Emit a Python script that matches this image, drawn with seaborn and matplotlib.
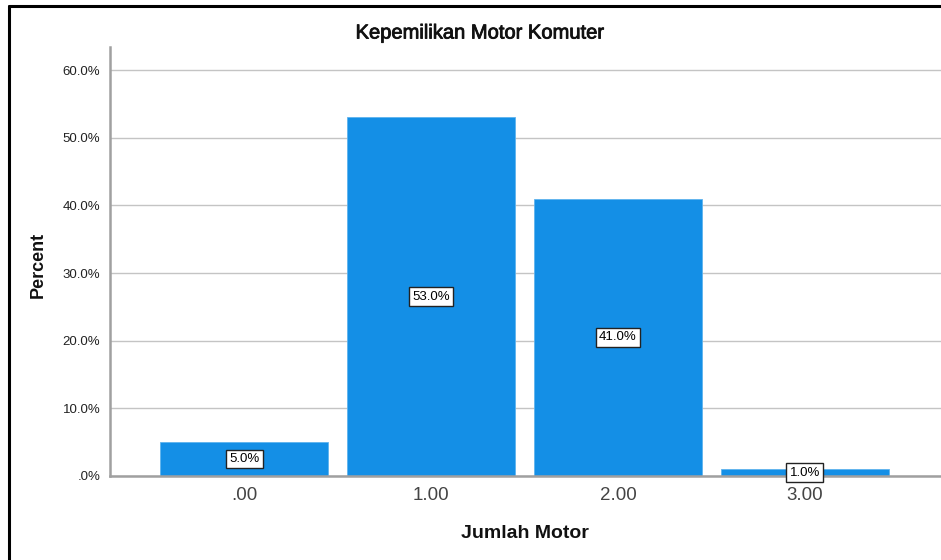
import matplotlib
matplotlib.use("Agg")
import matplotlib.pyplot as plt
import matplotlib.patheffects as pe
import seaborn as sns
import pandas as pd

categories = [".00", "1.00", "2.00", "3.00"]
percent = [5.0, 53.0, 41.0, 1.0]
y_ticks = [0, 10, 20, 30, 40, 50, 60]
y_tick_labels = [".0%", "10.0%", "20.0%", "30.0%", "40.0%", "50.0%", "60.0%"]

df = pd.DataFrame({"Jumlah Motor": categories, "Percent": percent})

sns.set_style("white")
plt.rcParams["font.family"] = ["Liberation Sans", "DejaVu Sans"]

W, H = 941, 560
fig = plt.figure(figsize=(W / 100, H / 100), dpi=100)
fig.patch.set_facecolor("white")

# axes box in pixel terms: left spine x=110, baseline y=476, top y=47
ax = fig.add_axes([110 / W, (H - 476) / H, (W - 110) / W + 0.02, (476 - 47) / H])

sns.barplot(data=df, x="Jumlah Motor", y="Percent", order=categories,
            color="#148fe6", saturation=1, width=0.9, ax=ax, zorder=3)

for p in ax.patches:
    p.set_edgecolor("#5fb3ee")
    p.set_linewidth(0.6)

ax.set_ylim(0, 63.4)
ax.set_xlim(-0.719, 3.83)
ax.set_yticks(y_ticks)
ax.set_yticklabels(y_tick_labels, fontsize=9.5, color="#222222")
ax.tick_params(axis="x", labelsize=13.5, labelcolor="#444444", length=0, pad=8)
ax.tick_params(axis="y", length=0, pad=7)

ax.yaxis.grid(True, color="#c4c4c4", linewidth=1.0, zorder=0)
ax.set_axisbelow(True)
for side in ["top", "right"]:
    ax.spines[side].set_visible(False)
for side in ["left", "bottom"]:
    ax.spines[side].set_color("#a0a0a0")
    ax.spines[side].set_linewidth(1.8)
    ax.spines[side].set_zorder(4)

ax.set_xlabel("")
ax.set_ylabel("")

# value labels in boxes at bar mid-height
for i, v in enumerate(percent):
    ax.text(i, v / 2, f"{v:.1f}%", ha="center", va="center", fontsize=9.5,
            color="black", zorder=6,
            bbox=dict(boxstyle="square,pad=0.25", facecolor="white",
                      edgecolor="#222222", linewidth=1.0))

fig.text(480 / W, 1 - 33 / H, "Kepemilikan Motor Komuter", ha="center",
         va="center", fontsize=14.5, color="#111111",
         path_effects=[pe.withStroke(linewidth=0.6, foreground="#111111")])
fig.text(525 / W, 1 - 533 / H, "Jumlah Motor", ha="center", va="center",
         fontsize=14, fontweight="bold", color="#111111")
fig.text(38 / W, 1 - 265 / H, "Percent", ha="center", va="center",
         fontsize=13, fontweight="bold", rotation=90, color="#111111")

# outer frame: top and left edges
fig.add_artist(plt.Line2D([8.5 / W, 1.0], [1 - 5.5 / H, 1 - 5.5 / H],
                          transform=fig.transFigure, color="black", linewidth=2.2))
fig.add_artist(plt.Line2D([8.5 / W, 8.5 / W], [0, 1 - 5.5 / H],
                          transform=fig.transFigure, color="black", linewidth=2.2))

fig.savefig("out.png", dpi=100, facecolor="white")
